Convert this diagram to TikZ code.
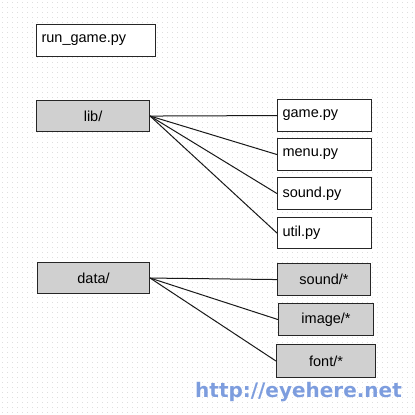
\documentclass[tikz,border=0pt]{standalone}
\usepackage{fontspec}
\setmainfont{Liberation Sans}
\newfontfamily\urlfnt{DejaVu Sans}
\definecolor{boxgray}{RGB}{208,208,208}
\definecolor{urlblue}{RGB}{125,157,222}
\definecolor{dotgray}{RGB}{222,222,222}
\begin{document}
\begin{tikzpicture}[x=1pt,y=-1pt,
  box/.style={draw=black!85, line width=1.1pt, rectangle, anchor=north west,
    inner xsep=5pt, inner ysep=0pt, font=\fontsize{14.5}{16}\selectfont},
  lbox/.style={box, fill=white, align=left},
  cbox/.style={box, fill=boxgray, align=center},
  link/.style={draw=black!90, line width=1pt}]
\useasboundingbox (0,0) rectangle (415,415);
\fill[white] (0,0) rectangle (415,415);
\foreach \gx in {2,7,...,412}
  \draw[dotgray, line width=0.6pt, dash pattern=on 0.6pt off 4.4pt] (\gx,2) -- (\gx,415);
% top
\node[lbox, text width=109pt, minimum height=32pt] (run) at (36,24) {run\_game.py};
\node[cbox, text width=103pt, minimum height=31pt] (lib) at (36,100) {lib/};
\node[lbox, text width=84pt, minimum height=32pt] (game) at (277,99) {game.py};
\node[lbox, text width=84pt, minimum height=32pt] (menu) at (277,138) {menu.py};
\node[lbox, text width=84pt, minimum height=32pt] (sound) at (277,177) {sound.py};
\node[lbox, text width=84pt, minimum height=31pt] (util) at (277,217) {util.py};
\node[cbox, text width=102pt, minimum height=31pt] (data) at (37,262) {data/};
\node[cbox, text width=83pt, minimum height=32pt] (soundd) at (277,263) {sound/*};
\node[cbox, text width=85pt, minimum height=32pt] (image) at (278,303) {image/*};
\node[cbox, text width=89pt, minimum height=33pt] (font) at (276,344) {font/*};
\foreach \t in {game,menu,sound,util}
  \draw[link] (lib.east) -- (\t.west);
\foreach \t in {soundd,image,font}
  \draw[link] (data.east) -- (\t.west);
\node[font=\urlfnt\bfseries\fontsize{20}{22}\selectfont, text=urlblue, anchor=base west, inner sep=0pt] (url) at (195,397) {http://eyehere.net};
\end{tikzpicture}
\end{document}
